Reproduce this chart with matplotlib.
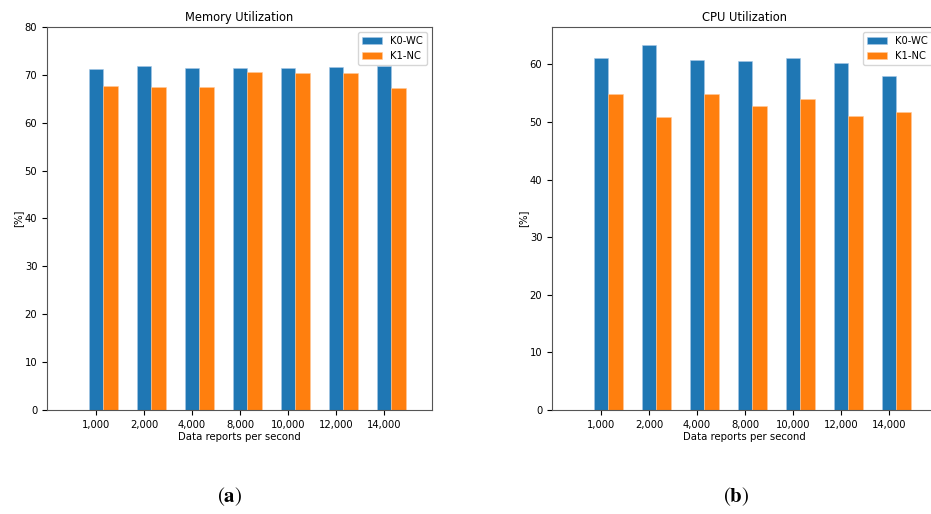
import numpy as np
import matplotlib.pyplot as plt

# DATA
rates = ["1,000", "2,000", "4,000", "8,000", "10,000", "12,000", "14,000"]
mem_k0 = [71.2, 71.9, 71.4, 71.5, 71.4, 71.7, 71.8]
mem_k1 = [67.6, 67.5, 67.5, 70.7, 70.3, 70.3, 67.3]
cpu_k0 = [61.1, 63.3, 60.8, 60.5, 61.1, 60.3, 58.0]
cpu_k1 = [54.9, 50.8, 54.9, 52.7, 54.0, 51.1, 51.8]

W, H = 931, 514
fig = plt.figure(figsize=(W / 100, H / 100), dpi=100)
plt.rcParams['font.size'] = 7

x = np.arange(len(rates))
width = 0.3


def draw(ax, k0, k1, title):
    ax.bar(x, k0, width, color='#1f77b4', edgecolor='#a6c8e6', linewidth=0.4, label='K0-WC')
    ax.bar(x + width, k1, width, color='#ff7f0e', edgecolor='#ffc99a', linewidth=0.4, label='K1-NC')
    ax.set_xticks(x)
    ax.set_xticklabels(rates, fontsize=7.2)
    ax.tick_params(axis='y', labelsize=7.2)
    ax.set_xlim(-1.02, 7.0)
    ax.set_title(title, fontsize=8.3, pad=4)
    ax.set_xlabel("Data reports per second", fontsize=7.3, labelpad=2)
    ax.set_ylabel("[%]", fontsize=7.3, labelpad=1)
    ax.legend(loc='upper right', fontsize=7.2)
    for s in ax.spines.values():
        s.set_color('#555555')


ax1 = fig.add_axes([47 / W, 104 / H, 385 / W, 383 / H])
draw(ax1, mem_k0, mem_k1, "Memory Utilization")
ax1.set_ylim(0, 80)

ax2 = fig.add_axes([552 / W, 104 / H, 385 / W, 383 / H])
draw(ax2, cpu_k0, cpu_k1, "CPU Utilization")
ax2.set_ylim(0, max(cpu_k0) * 1.05)

fig.text(230 / W, 1 - 497 / H, r'$(\mathbf{a})$', math_fontfamily='stix',
         fontsize=15, ha='center', va='center')
fig.text(736 / W, 1 - 497 / H, r'$(\mathbf{b})$', math_fontfamily='stix',
         fontsize=15, ha='center', va='center')

fig.savefig("out.png", dpi=100)
